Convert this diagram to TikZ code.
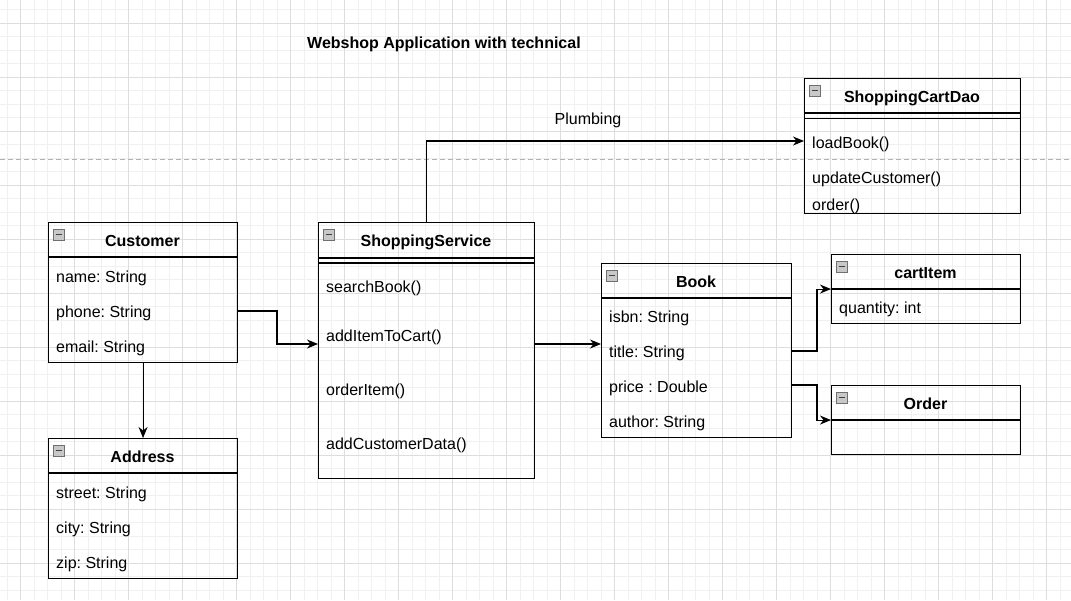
\documentclass[tikz,border=0pt]{standalone}
\usepackage{fontspec}
\setmainfont{Liberation Sans}
\usetikzlibrary{arrows.meta}
\definecolor{gridminor}{HTML}{F0F0F0}
\definecolor{gridmajor}{HTML}{DDDDDD}
\definecolor{iconfill}{HTML}{C8C8C8}
\definecolor{iconline}{HTML}{707070}
\frenchspacing
\begin{document}
\begin{tikzpicture}[x=1pt,y=-1pt,
  every node/.style={font=\fontsize{16}{19}\selectfont, inner sep=0pt},
  clsbox/.style={draw=black, line width=1.1pt, anchor=north west},
  clstitle/.style={font=\fontsize{16}{19}\selectfont\bfseries, text height=13.5, text depth=1.5},
  rowtext/.style={anchor=west, text height=13.5, text depth=1.5},
  sepline/.style={line width=1.1pt},
  arr/.style={line width=1.1pt, -{Stealth[length=11pt,width=9pt,inset=3.5pt]}},
  plain/.style={line width=1.1pt}
]
\useasboundingbox (0,0) rectangle (1071,600);
% grid
\foreach \i in {0,...,79} {
  \draw[gridminor, line width=0.8pt] (7+13.5*\i,0) -- (7+13.5*\i,600);
}
\foreach \j in {0,...,44} {
  \draw[gridminor, line width=0.8pt] (0,9.8+13.5*\j) -- (1071,9.8+13.5*\j);
}
\foreach \i in {0,...,19} {
  \draw[gridmajor, line width=0.9pt] (20.5+54*\i,0) -- (20.5+54*\i,600);
}
\foreach \j in {0,...,10} {
  \draw[gridmajor, line width=0.9pt] (0,23.3+54*\j) -- (1071,23.3+54*\j);
}
% dashed separator
\draw[color=black!30, line width=0.8pt, dash pattern=on 5pt off 3pt] (0,159) -- (1071,159);

% title
\node[font=\fontsize{16}{19}\selectfont\bfseries, anchor=west, text height=13.5, text depth=1.5] (title) at (307,42) {Webshop Application with technical};

\tikzset{clsicon/.pic={
  \draw[iconline, fill=iconfill, line width=0.6pt] (0,0) rectangle (11,11);
  \draw[black!75, line width=1.6pt] (2.5,5.5) -- (8.5,5.5);
}}

% Customer
\node[clsbox, minimum width=189, minimum height=140] (cust) at (48,222) {};
\draw[sepline] (48,257) -- (237,257);
\pic at (53,229) {clsicon};
\node[clstitle] (custt) at (142.5,240) {Customer};
\node[rowtext] (cname) at (56,276) {name: String};
\node[rowtext] (cphone) at (56,311) {phone: String};
\node[rowtext] (cemail) at (56,346) {email: String};

% Address
\node[clsbox, minimum width=189, minimum height=140] (addr) at (48,438) {};
\draw[sepline] (48,473) -- (237,473);
\pic at (53,445) {clsicon};
\node[clstitle] (addrt) at (142.5,456) {Address};
\node[rowtext] (astreet) at (56,492) {street: String};
\node[rowtext] (acity) at (56,527) {city: String};
\node[rowtext] (azip) at (56,562) {zip: String};

% ShoppingService
\node[clsbox, minimum width=216, minimum height=256] (svc) at (318,222) {};
\draw[sepline] (318,258) -- (534,258);
\draw[sepline] (318,263) -- (534,263);
\pic at (323,229) {clsicon};
\node[clstitle] (svct) at (426,240) {ShoppingService};
\node[rowtext] (ssearch) at (326,286) {searchBook()};
\node[rowtext] (sadd) at (326,335) {addItemToCart()};
\node[rowtext] (sorder) at (326,389) {orderItem()};
\node[rowtext] (scust) at (326,443) {addCustomerData()};

% Book
\node[clsbox, minimum width=190, minimum height=174] (book) at (601,263) {};
\draw[sepline] (601,298) -- (791,298);
\pic at (606,270) {clsicon};
\node[clstitle] (bookt) at (696,281) {Book};
\node[rowtext] (bisbn) at (609,316) {isbn: String};
\node[rowtext] (btitle) at (609,351) {title: String};
\node[rowtext] (bprice) at (609,386) {price : Double};
\node[rowtext] (bauthor) at (609,421) {author: String};

% ShoppingCartDao
\node[clsbox, minimum width=216, minimum height=135] (dao) at (804,78) {};
\draw[sepline] (804,113) -- (1020,113);
\draw[sepline] (804,118.5) -- (1020,118.5);
\pic at (809,85) {clsicon};
\node[clstitle] (daot) at (912,96) {ShoppingCartDao};
\node[rowtext] (dload) at (812,142) {loadBook()};
\node[rowtext] (dupd) at (812,177.5) {updateCustomer()};
\node[rowtext] (dord) at (812,204) {order()};

% cartItem
\node[clsbox, minimum width=189, minimum height=69] (cart) at (831,254) {};
\draw[sepline] (831,289) -- (1020,289);
\pic at (836,261) {clsicon};
\node[clstitle] (cartt) at (925.5,272) {cartItem};
\node[rowtext] (cqty) at (839,307) {quantity: int};

% Order
\node[clsbox, minimum width=189, minimum height=69] (ord) at (831,385) {};
\draw[sepline] (831,420) -- (1020,420);
\pic at (836,392) {clsicon};
\node[clstitle] (ordt) at (925.5,403) {Order};

% connectors
\draw[arr] (cust.east |- 0,311) -- (277,311) |- (svc.west |- 0,344);
\draw[arr] (cust.south) -- (addr.north);
\draw[arr] (svc.east |- 0,344) -- (book.west |- 0,344);
\draw[arr] (svc.north) |- (dao.west |- 0,141);
\draw[arr] (book.east |- 0,351) -- (817,351) |- (cart.west);
\draw[arr] (book.east |- 0,385) -- (817,385) |- (ord.west);

% label
\node[text height=13.5, text depth=1.5] (plumb) at (588,118) {Plumbing};
\end{tikzpicture}
\end{document}
